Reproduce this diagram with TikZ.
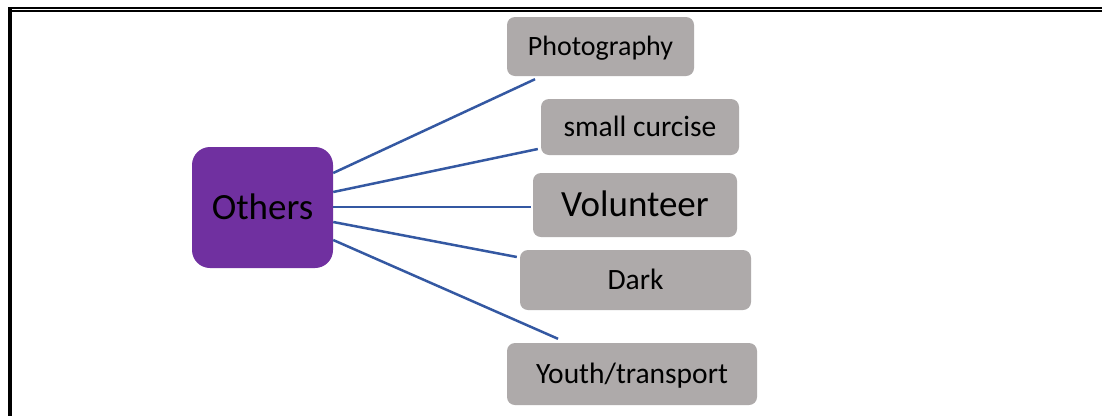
\documentclass[tikz,border=0pt]{standalone}
\usepackage{fontspec}
\setmainfont{Carlito}
\usetikzlibrary{calc}
\definecolor{hubpurple}{RGB}{112,48,160}
\definecolor{leafgray}{RGB}{174,170,170}
\definecolor{linkblue}{RGB}{52,88,162}
\tikzset{
  leaf/.style={fill=leafgray, draw=none, rounded corners=8pt, inner sep=0pt,
    font=\fontsize{29.5}{34}\selectfont, text height=19pt, text depth=0pt},
  bigleaf/.style={leaf, font=\fontsize{37}{42}\selectfont, text height=23.8pt},
  hub/.style={fill=hubpurple, draw=none, rounded corners=18pt, inner sep=0pt,
    minimum width=141pt, minimum height=121pt,
    font=\fontsize{37}{42}\selectfont, text height=23.8pt, text depth=0pt},
  link/.style={draw=linkblue, line width=2.5pt},
}
\begin{document}
\begin{tikzpicture}[x=1pt,y=-1pt]
  \useasboundingbox (0,0) rectangle (1102,416);
  \fill[white] (0,0) rectangle (1102,416);

  % page frame: thick/thin rule on top, heavy rule on the left
  \draw[line width=2pt] (8,7.7) -- (1102,7.7);
  \draw[line width=1.7pt] (12,10.9) -- (1102,10.9);
  \fill (8,6.7) rectangle (12,416);

  % central node
  \node[hub] (others) at (262.5,207.5) {Others};

  % surrounding nodes
  \node[leaf, minimum width=187pt, minimum height=59pt,
        font=\fontsize{28}{32}\selectfont, text height=18pt] (photo) at (600.5,46.5) {Photography};
  \node[leaf, minimum width=198pt, minimum height=56pt] (small) at (640,127) {small curcise};
  \node[bigleaf, minimum width=204pt, minimum height=64pt] (vol) at (635,205) {Volunteer};
  \node[leaf, minimum width=231pt, minimum height=60pt] (dark) at (635.5,280) {Dark};
  \node[leaf, minimum width=250pt, minimum height=62pt] (youth) at (632,374) {Youth/transport};

  % connectors
  \draw[link] ($(others.east)+(0,-34.5)$) -- ($(photo.south)+(-65.5,3)$);
  \draw[link] ($(others.east)+(0,-15.5)$) -- ($(small.west)+(-3,22)$);
  \draw[link] ($(others.east)+(0,-0.5)$) -- ($(vol.west)+(-2,2)$);
  \draw[link] ($(others.east)+(0,14.5)$) -- ($(dark.west)+(-3,-23)$);
  \draw[link] ($(others.east)+(0,32.5)$) -- ($(youth.north)+(-74,-4)$);
\end{tikzpicture}
\end{document}
